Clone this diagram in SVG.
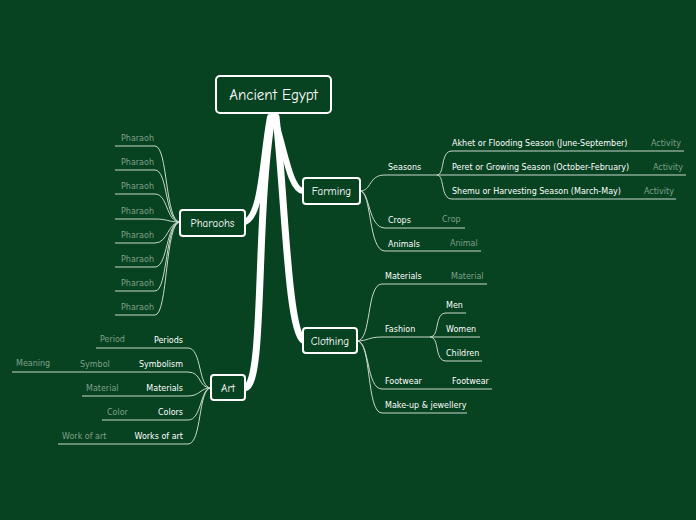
<svg xmlns="http://www.w3.org/2000/svg" width="696" height="520" viewBox="0 0 696 520">
<style>
.bg{fill:#074221}
.node{fill:#074221;stroke:#fff;stroke-width:2}
.nt{font-family:"Comic Neue","DejaVu Sans",sans-serif;fill:#fff;text-anchor:middle}
.t{font-family:"DejaVu Sans","Liberation Sans",sans-serif;font-size:8px;fill:#fff}
.g{font-family:"DejaVu Sans","Liberation Sans",sans-serif;font-size:8px;fill:#7fa08a}
.l{fill:none;stroke:#c9d8cc;stroke-width:1}
.lg{fill:none;stroke:#7fa08a;stroke-width:1}
.thick{fill:none;stroke:#fff;stroke-linecap:round}
</style>
<rect class="bg" width="696" height="520"/>
<g id="connectors">
<path class="thick" stroke-width="6" d="M270 117 C262 160 262 215 245 222"/>
<path class="thick" stroke-width="6" d="M274 117 C285 150 290 190 303 191"/>
<path class="thick" stroke-width="7" d="M276 117 C285 200 288 330 303 340"/>
<path class="thick" stroke-width="7" d="M272 117 C255 220 265 385 245 388"/>
<!-- Farming -->
<path class="l" d="M360 191 C372 191 368 175 385 175 L437 175"/>
<path class="l" d="M360 191 C370 191 368 228 385 228 L465 228"/>
<path class="l" d="M360 191 C372 191 368 251 385 251 L481 251"/>
<path class="l" d="M437 175 C445 175 440 151 452 151 L684 151"/>
<path class="l" d="M437 175 L686 175"/>
<path class="l" d="M437 175 C445 175 440 199 452 199 L676 199"/>
<!-- Clothing -->
<path class="l" d="M357 341 C372 341 366 284 382 284 L487 284"/>
<path class="l" d="M357 341 C368 341 368 337 382 337 L430 337"/>
<path class="l" d="M357 341 C370 341 366 389 382 389 L492 389"/>
<path class="l" d="M357 341 C372 341 366 413 382 413 L467 413"/>
<path class="l" d="M430 337 C440 337 434 313 446 313 L466 313"/>
<path class="l" d="M430 337 L480 337"/>
<path class="l" d="M430 337 C440 337 434 361 446 361 L482 361"/>
<!-- Art -->
<path class="l" d="M211 388 C198 388 202 348 188 348 L96 348"/>
<path class="l" d="M211 388 C198 388 202 372 188 372 L12 372"/>
<path class="l" d="M211 388 C200 388 200 396 188 396 L82 396"/>
<path class="l" d="M211 388 C200 388 202 420 188 420 L102 420"/>
<path class="l" d="M211 388 C198 388 202 444 188 444 L58 444"/>
<!-- Pharaohs -->
<path class="l" d="M180 222 C165 222 168 146 155 146 L115 146"/>
<path class="l" d="M180 222 C165 222 168 170 155 170 L115 170"/>
<path class="l" d="M180 222 C166 222 168 194 155 194 L115 194"/>
<path class="l" d="M180 222 C168 222 168 219 155 219 L115 219"/>
<path class="l" d="M180 222 C168 222 168 243 155 243 L115 243"/>
<path class="l" d="M180 222 C166 222 168 267 155 267 L115 267"/>
<path class="l" d="M180 222 C165 222 168 291 155 291 L115 291"/>
<path class="l" d="M180 222 C165 222 168 315 155 315 L115 315"/>
</g>
<g id="root"><rect class="node" x="216" y="76" width="115" height="37" rx="4"/><text class="nt" x="273.5" y="100" font-size="15">Ancient Egypt</text></g>
<g id="pharaohs"><rect class="node" x="180" y="210" width="65" height="26" rx="3"/><text class="nt" x="212.5" y="227" font-size="11">Pharaohs</text></g>
<g id="farming"><rect class="node" x="303" y="178" width="57" height="26" rx="3"/><text class="nt" x="331.5" y="195" font-size="11">Farming</text></g>
<g id="clothing"><rect class="node" x="303" y="328" width="54" height="25" rx="3"/><text class="nt" x="330" y="345" font-size="11">Clothing</text></g>
<g id="art"><rect class="node" x="211" y="375" width="34" height="25" rx="3"/><text class="nt" x="228" y="392" font-size="11">Art</text></g>
<g id="farming-children">
<text class="t" x="388" y="170">Seasons</text>
<text class="t" x="452" y="146">Akhet or Flooding Season (June-September)</text><text class="g" x="651" y="146">Activity</text>
<text class="t" x="452" y="170">Peret or Growing Season (October-February)</text><text class="g" x="653" y="170">Activity</text>
<text class="t" x="452" y="194">Shemu or Harvesting Season (March-May)</text><text class="g" x="644" y="194">Activity</text>
<text class="t" x="388" y="223">Crops</text><text class="g" x="442" y="222">Crop</text>
<text class="t" x="388" y="247">Animals</text><text class="g" x="450" y="246">Animal</text>
</g>
<g id="clothing-children">
<text class="t" x="385" y="279">Materials</text><text class="g" x="451" y="279">Material</text>
<text class="t" x="385" y="332">Fashion</text>
<text class="t" x="446" y="308">Men</text><text class="t" x="446" y="332">Women</text><text class="t" x="446" y="356">Children</text>
<text class="t" x="385" y="384">Footwear</text><text class="t" x="452" y="384">Footwear</text>
<text class="t" x="385" y="408">Make-up &amp; jewellery</text>
</g>
<g id="art-children">
<text class="t" x="183" y="343" text-anchor="end">Periods</text><text class="g" x="100" y="342">Period</text>
<text class="t" x="183" y="367" text-anchor="end">Symbolism</text><text class="g" x="80" y="367">Symbol</text><text class="g" x="16" y="366">Meaning</text>
<text class="t" x="183" y="391" text-anchor="end">Materials</text><text class="g" x="86" y="391">Material</text>
<text class="t" x="183" y="415" text-anchor="end">Colors</text><text class="g" x="107" y="415">Color</text>
<text class="t" x="183" y="439" text-anchor="end">Works of art</text><text class="g" x="62" y="439">Work of art</text>
</g>
<g id="pharaoh-children">
<text class="g" x="121" y="141">Pharaoh</text><text class="g" x="121" y="165">Pharaoh</text>
<text class="g" x="121" y="189">Pharaoh</text><text class="g" x="121" y="214">Pharaoh</text>
<text class="g" x="121" y="238">Pharaoh</text><text class="g" x="121" y="262">Pharaoh</text>
<text class="g" x="121" y="286">Pharaoh</text><text class="g" x="121" y="310">Pharaoh</text>
</g>
</svg>
